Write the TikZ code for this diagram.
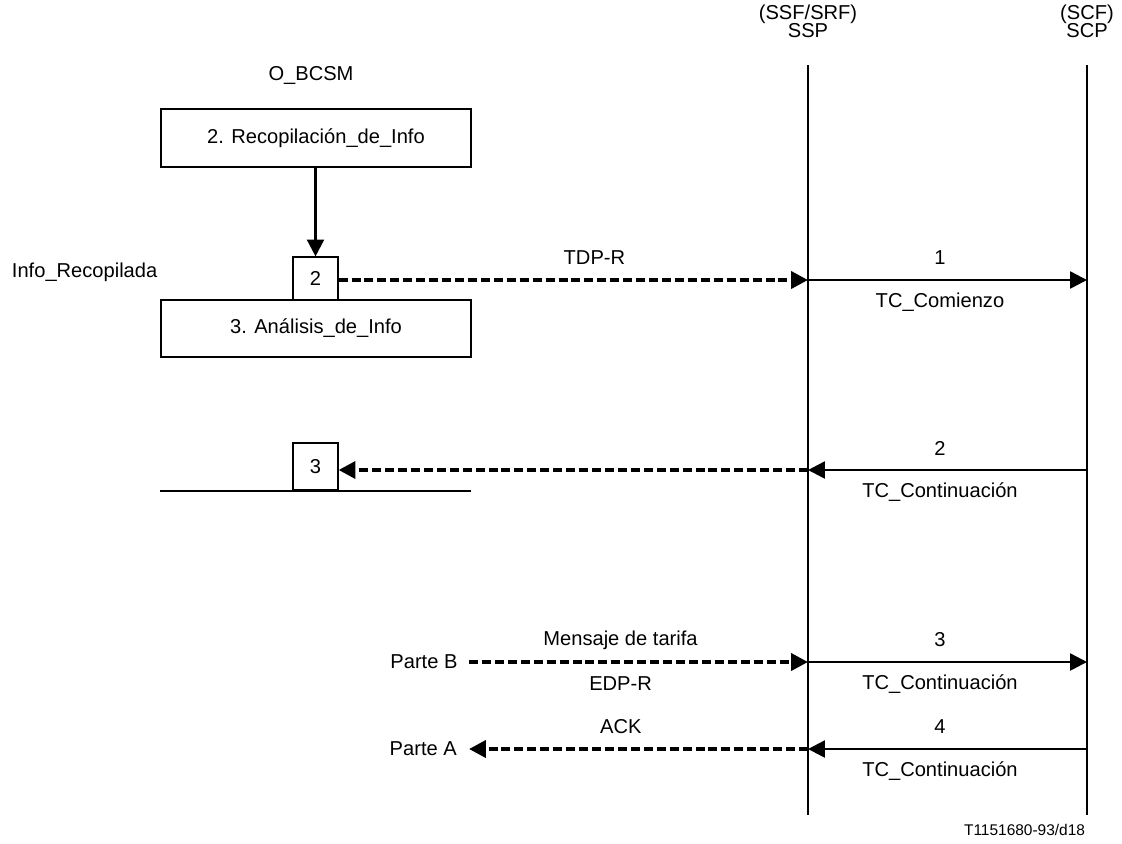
\documentclass[tikz,border=0pt]{standalone}
\usepackage{fontspec}
\setmainfont{Liberation Sans}
\usetikzlibrary{arrows.meta}
\begin{document}
\begin{tikzpicture}[x=0.025cm,y=-0.025cm,
		font=\fontsize{14.3}{13}\selectfont,
		pm/.style={draw=black,line width=0.8pt,minimum width=7.75cm,minimum height=1.45cm},
		pp/.style={draw=black,line width=0.8pt,minimum width=1.125cm},
		life/.style={line width=1.8pt},
		msg/.style={line width=1.8pt,-{Triangle[length=12pt,width=12pt]}},
		dmsg/.style={line width=2.8pt,dash pattern=on 6.4pt off 2.8pt,-{Triangle[length=12pt,width=12pt]}},
		up/.style={yshift=0.55cm},
		dn/.style={yshift=-0.55cm}]
		\useasboundingbox (0,0) rectangle (1122,843);
		\node[align=center] (ssp) at (808,21) {(SSF/SRF)\\SSP};
		\node[align=center] (scp) at (1087,21) {(SCF)\\SCP};
		\coordinate (sspt) at (808,65);
		\coordinate (sspb) at (808,815);
		\coordinate (scpt) at (1087,65);
		\coordinate (scpb) at (1087,815);
		\draw[life] (sspt) -- (sspb);
		\draw[life] (scpt) -- (scpb);
		\node (bcsm) at (311,75) {O\_BCSM};
		\node[pm] (b2) at (316,138) {2. Recopilación\_de\_Info};
		\node[pm,minimum height=1.425cm] (b3) at (316,328.5) {3. Análisis\_de\_Info};
		\node[pp,minimum height=1.075cm,fill=white] (k2) at (315.5,278.5) {2};
		\node[pp,minimum height=1.175cm] (k3) at (315.5,466.5) {3};
		\node[anchor=west] (info) at (7,272) {Info\_Recopilada};
		\coordinate (l1) at (160,491);
		\coordinate (l2) at (471,491);
		\draw[life] (l1) -- (l2);
		\draw[msg] (b2.south -| k2) -- (k2.north);
		\coordinate (s1) at (808,280);
		\coordinate (c1) at (1087,280);
		\coordinate (s2) at (808,470);
		\coordinate (c2) at (1087,470);
		\coordinate (s3) at (808,662);
		\coordinate (c3) at (1087,662);
		\coordinate (s4) at (808,749);
		\coordinate (c4) at (1087,749);
		\node[anchor=east,inner xsep=8pt] (pb) at (469,662) {Parte B};
		\node[anchor=east,inner xsep=8.5pt] (pa) at (469,749) {Parte A};
		\draw[dmsg] (k2.east |- s1) -- node[up,pos=0.545] {TDP-R} (s1);
		\draw[msg] (s1) -- node[up,pos=0.473] {1} node[dn,pos=0.473] {TC\_Comienzo} (c1);
		\draw[msg] (c2) -- node[up,pos=0.527] {2} node[dn,pos=0.527] {TC\_Continuación} (s2);
		\draw[dmsg] (s2) -- (k3.east |- s2);
		\draw[dmsg] (pb.east) -- node[up,pos=0.447] {Mensaje de tarifa} node[dn,pos=0.447] {EDP-R} (s3);
		\draw[msg] (s3) -- node[up,pos=0.473] {3} node[dn,pos=0.473] {TC\_Continuación} (c3);
		\draw[msg] (c4) -- node[up,pos=0.527] {4} node[dn,pos=0.527] {TC\_Continuación} (s4);
		\draw[dmsg] (s4) -- node[up,pos=0.552] {ACK} (pa.east);
		\node[anchor=east,font=\fontsize{11}{13}\selectfont] (ref) at (1090,830) {T1151680-93/d18};
	\end{tikzpicture}
\end{document}
